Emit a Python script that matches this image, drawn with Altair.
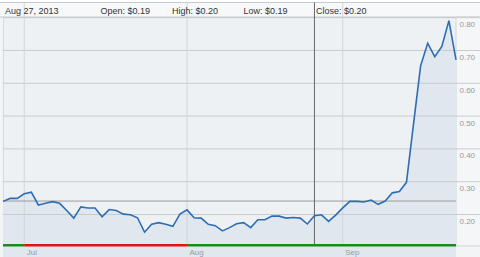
import altair as alt
import pandas as pd

# ---- data ----
prices = [0.240, 0.249, 0.249, 0.263, 0.268, 0.229, 0.234, 0.239, 0.234, 0.212,
          0.189, 0.223, 0.220, 0.220, 0.193, 0.215, 0.212, 0.201, 0.199, 0.190,
          0.146, 0.170, 0.175, 0.170, 0.164, 0.201, 0.214, 0.190, 0.189, 0.170,
          0.166, 0.150, 0.160, 0.172, 0.175, 0.160, 0.184, 0.184, 0.195, 0.195,
          0.189, 0.191, 0.189, 0.171, 0.196, 0.199, 0.179, 0.198, 0.220, 0.240,
          0.240, 0.238, 0.244, 0.231, 0.241, 0.266, 0.270, 0.298, 0.476, 0.653,
          0.722, 0.681, 0.712, 0.791, 0.671]
day_index = list(range(len(prices)))

month_labels = ["Jul", "Aug", "Sep"]
month_index = [3, 26, 48]

y_ticks = [0.20, 0.30, 0.40, 0.50, 0.60, 0.70, 0.80]
prev_close = 0.241
cross_index = 44

seg_start = [0, 3, 26]
seg_end = [3, 26, 64]
seg_trend = ["up", "down", "up"]

header_texts = ["Aug 27, 2013", "Open: $0.19", "High: $0.20", "Low: $0.19", "Close: $0.20"]

# ---- geometry / style ----
W, H = 453, 228
FONT = "Liberation Sans"
xscale = alt.Scale(domain=[0, 64], nice=False, zero=False)
yscale = alt.Scale(domain=[0.107, 0.802], nice=False, zero=False)

df = pd.DataFrame({"i": day_index, "price": prices})
one = alt.Data(values=[{}])

label_expr = " : ".join(
    f"datum.value == {i} ? '{m}'" for i, m in zip(month_index, month_labels)
) + " : ''"

x_axis = alt.Axis(values=month_index, labelExpr=label_expr, grid=False, domain=False,
                  ticks=False, labelAlign="left", labelBaseline="top", labelOffset=2,
                  labelPadding=3, labelFontSize=8, labelColor="#9a9a9a", labelFont=FONT,
                  zindex=2)
y_axis = alt.Axis(orient="right", values=y_ticks, format=".2f", grid=False, domain=False,
                  ticks=False, labelAlign="left", labelBaseline="top", labelOffset=3,
                  labelPadding=3, labelFontSize=8, labelColor="#9a9a9a", labelFont=FONT,
                  zindex=2)


def X(field):
    return alt.X(field, scale=xscale, axis=x_axis, title=None)


def Y(field):
    return alt.Y(field, scale=yscale, axis=y_axis, title=None)


# backgrounds
top_white = alt.Chart(one).mark_rect(fill="#ffffff").encode(
    x=alt.value(-3), x2=alt.value(W + 24), y=alt.value(-17), y2=alt.value(-14.5))
header_bg = alt.Chart(one).mark_rect(fill="#f7f8f9", stroke="#c8cbcd", strokeWidth=1).encode(
    x=alt.value(-3.5), x2=alt.value(W + 25), y=alt.value(-14.5), y2=alt.value(0))
right_panel = alt.Chart(one).mark_rect(fill="#f4f6f7", stroke="#d2d5d8", strokeWidth=1).encode(
    x=alt.value(W), x2=alt.value(W + 25), y=alt.value(0), y2=alt.value(H + 1))

area = alt.Chart(df).mark_area(color="#e1e7ee", opacity=1).encode(
    x=X("i:Q"), y=Y("price:Q"), y2=alt.value(H))

hgrid = alt.Chart(pd.DataFrame({"v": y_ticks})).mark_rule(color="#c9cccf", strokeWidth=1).encode(
    y=Y("v:Q"), x=alt.value(0), x2=alt.value(W + 24))

vgrid = alt.Chart(pd.DataFrame({"m": month_index})).mark_rule(color="#d2d5d8", strokeWidth=1).encode(
    x=X("m:Q"), y=alt.value(-14.5), y2=alt.value(H))

prev_rule = alt.Chart(pd.DataFrame({"p": [prev_close]})).mark_rule(color="#9a9c9e", strokeWidth=1).encode(
    y=Y("p:Q"), x=alt.value(0), x2=alt.value(W))

cross = alt.Chart(pd.DataFrame({"c": [cross_index]})).mark_rule(color="#666666", strokeWidth=1).encode(
    x=X("c:Q"), y=alt.value(-14.5), y2=alt.value(H))

line = alt.Chart(df).mark_line(color="#2d6db3", strokeWidth=1.6).encode(
    x=X("i:Q"), y=Y("price:Q"))

bar = alt.Chart(pd.DataFrame({"s": seg_start, "e": seg_end, "t": seg_trend})).mark_rect().encode(
    x=X("s:Q"), x2="e:Q",
    y=alt.value(227), y2=alt.value(229.5),
    color=alt.Color("t:N", scale=alt.Scale(domain=["up", "down"], range=["#1c8a1c", "#dd1515"]),
                    legend=None),
)

header_x = [2, 97.5, 169, 240.5, 313]
header_layers = [
    alt.Chart(one).mark_text(text=t, align="left", baseline="alphabetic", font=FONT,
                             fontSize=9, color="#333333").encode(x=alt.value(hx), y=alt.value(-3.5))
    for t, hx in zip(header_texts, header_x)
]

chart = alt.layer(
    top_white, header_bg, right_panel, area, hgrid, vgrid, prev_rule, cross, line, bar,
    *header_layers
).properties(
    width=W, height=H,
    autosize=alt.AutoSizeParams(type="none"),
    padding={"left": 3, "top": 17, "right": 24, "bottom": 12},
    background="#f2f4f5",
).configure_view(fill="#eef1f4", stroke="#d6d9dc")

chart.save("out.html", embed_options={"renderer": "svg", "actions": False})
